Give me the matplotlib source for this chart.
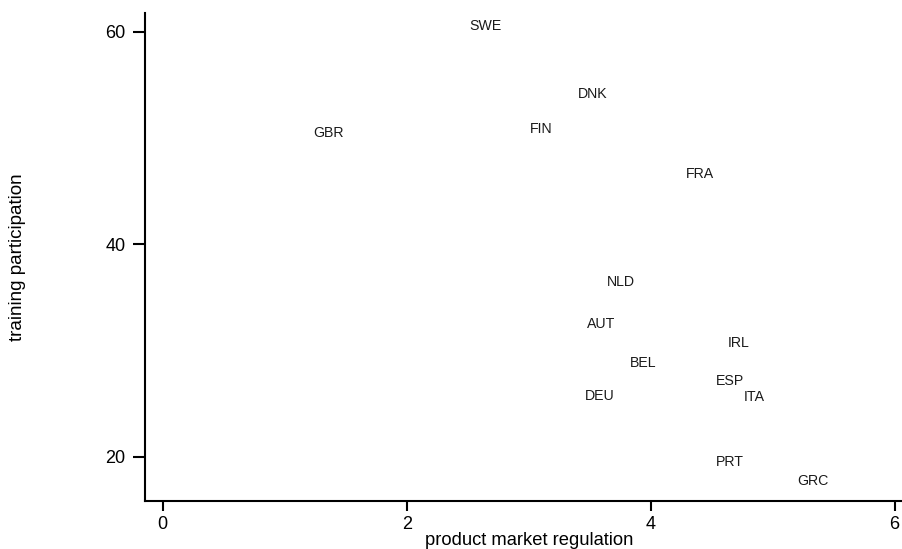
#!/usr/bin/env python3
import matplotlib
matplotlib.use("Agg")
import matplotlib.pyplot as plt


COUNTRIES = ["SWE", "GBR", "FIN", "DNK", "FRA", "NLD", "AUT", "IRL",
             "BEL", "ESP", "DEU", "ITA", "PRT", "GRC"]
PMR = [2.47, 1.19, 2.97, 3.36, 4.25, 3.60, 3.44, 4.59,
       3.79, 4.49, 3.42, 4.72, 4.49, 5.16]
TRAINING = [60.6, 50.5, 50.9, 54.2, 46.7, 36.5, 32.6, 30.8,
            28.9, 27.2, 25.8, 25.7, 19.6, 17.8]
XTICKS = [0, 2, 4, 6]
YTICKS = [20, 40, 60]


def main():
    plt.rcParams['font.family'] = ['Liberation Sans', 'DejaVu Sans']
    fig = plt.figure(figsize=(9.02, 5.49), dpi=100)
    ax = fig.add_axes([145 / 902, 48 / 549, 757 / 902, 488 / 549])

    # markers are invisible, only the labels are shown (right of the point)
    ax.scatter(PMR, TRAINING, s=0)
    for name, x, y in zip(COUNTRIES, PMR, TRAINING):
        ax.annotate(name, (x, y), xytext=(3.6, -0.5), textcoords="offset points",
                    ha="left", va="center", fontsize=10.2, color="#1a1a1a")

    ax.set_xlim(-0.145, 6.06)
    ax.set_ylim(15.85, 61.75)
    ax.set_xticks(XTICKS)
    ax.set_yticks(YTICKS)
    ax.tick_params(labelsize=13, width=1.5)
    ax.tick_params(axis="x", length=7.5, pad=3)
    ax.tick_params(axis="y", length=9, pad=5)

    for side in ("top", "right"):
        ax.spines[side].set_visible(False)
    for side in ("left", "bottom"):
        ax.spines[side].set_linewidth(1.5)

    ax.set_xlabel("product market regulation", fontsize=13.2)
    ax.set_ylabel("training participation", fontsize=13.6)
    ax.xaxis.set_label_coords(0.508, -0.063)
    ax.yaxis.set_label_coords(-0.157, 0.499)

    fig.savefig("out.png", dpi=100)


if __name__ == '__main__':
    main()
